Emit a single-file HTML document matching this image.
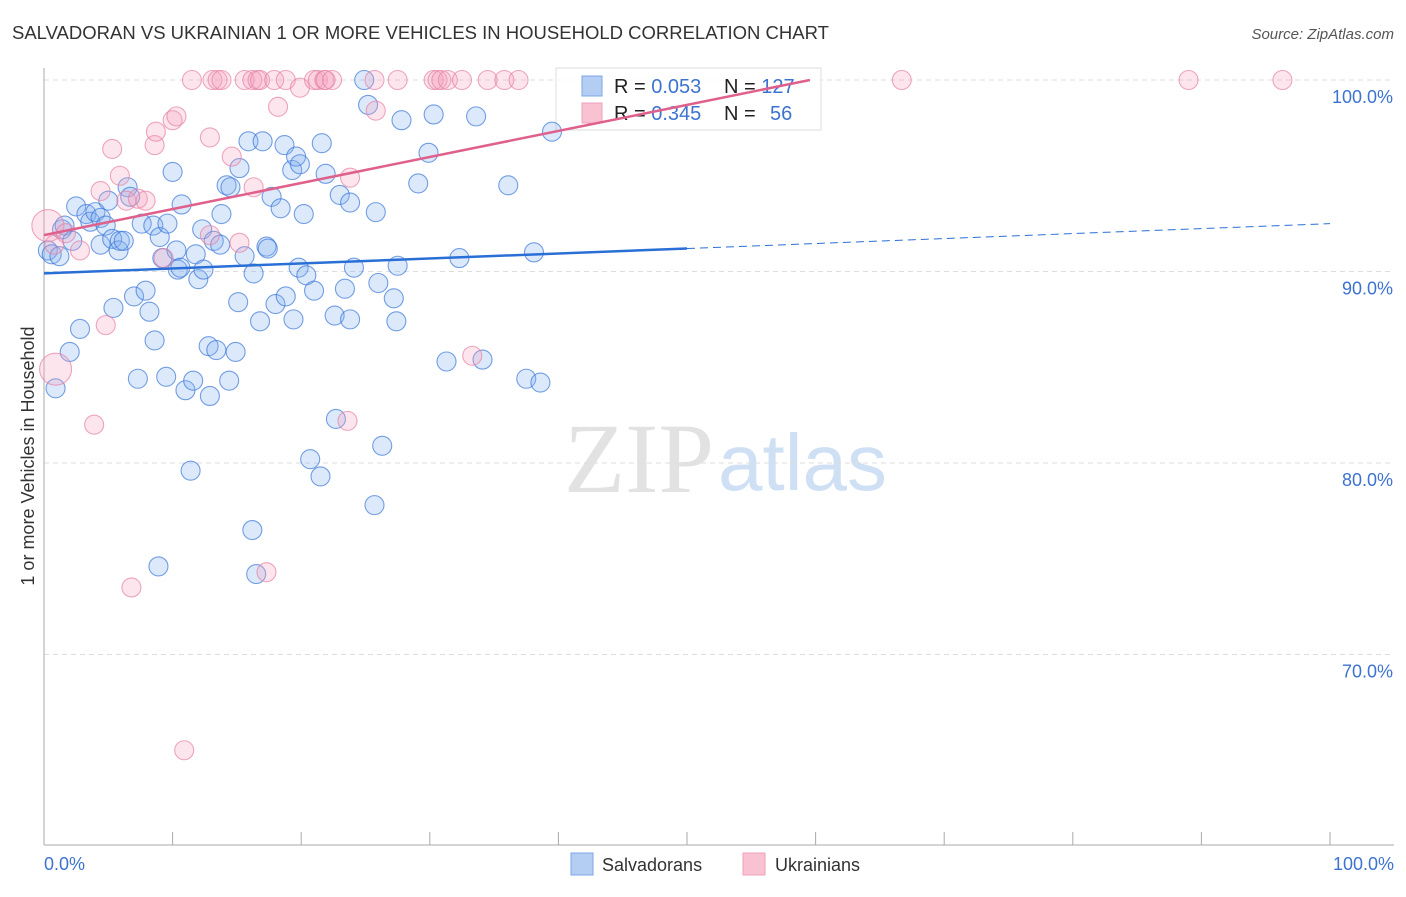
<!DOCTYPE html>
<html><head><meta charset="utf-8"><style>
body{margin:0;background:#fff;font-family:"Liberation Sans",sans-serif}
svg text{font-family:"Liberation Sans",sans-serif}
</style></head><body>
<svg id="chart" width="1406" height="892">
<text x="12" y="39" font-size="18.5" fill="#333">SALVADORAN VS UKRAINIAN 1 OR MORE VEHICLES IN HOUSEHOLD CORRELATION CHART</text>
<text x="1394" y="39" font-size="15" fill="#555" font-style="italic" text-anchor="end">Source: ZipAtlas.com</text>
<text x="714" y="492" font-size="100" fill="#e2e2e2" text-anchor="end" font-family="Liberation Serif" style="font-family:'Liberation Serif',serif">ZIP</text>
<text x="718" y="490" font-size="80" fill="#cfe0f5">atlas</text>
<g id="grid"></g>
<g id="axes"></g>
<g>
<rect x="556" y="68" width="265" height="62" fill="#fff" fill-opacity="0.85" stroke="#ddd"/>
<rect x="582" y="76" width="20" height="20" fill="#b3cdf3" stroke="#7ea6e6"/>
<rect x="582" y="103" width="20" height="20" fill="#f9c2d2" stroke="#eea0b8"/>
<text x="614" y="93" font-size="20" fill="#222">R = <tspan fill="#3d73d0">0.053</tspan><tspan x="724">N = </tspan><tspan fill="#3d73d0">127</tspan></text>
<text x="614" y="120" font-size="20" fill="#222">R = <tspan fill="#3d73d0">0.345</tspan><tspan x="724">N = </tspan><tspan x="770" fill="#3d73d0">56</tspan></text>
</g>
<g id="pts"></g>
<g id="trend"></g>
<text transform="translate(34,456) rotate(-90)" font-size="18" fill="#333" text-anchor="middle">1 or more Vehicles in Household</text>
<text x="44" y="870" font-size="18" fill="#3d73d0">0.0%</text>
<text x="1394" y="870" font-size="18" fill="#3d73d0" text-anchor="end">100.0%</text>
<g>
<rect x="571" y="853" width="22" height="22" fill="#b3cdf3" stroke="#7ea6e6"/>
<text x="602" y="871" font-size="18" fill="#333">Salvadorans</text>
<rect x="743" y="853" width="22" height="22" fill="#f9c2d2" stroke="#eea0b8"/>
<text x="775" y="871" font-size="18" fill="#333">Ukrainians</text>
</g>
</svg>
<script>
const yTicks=[100,90,80,70];
const yTickLabels=["100.0%","90.0%","80.0%","70.0%"];
const xTicks=[0,10,20,30,40,50,60,70,80,90,100];
const blueX=[0.3,0.6,0.9,1.2,1.4,1.6,2.0,2.2,2.5,2.8,3.3,3.6,4.0,4.4,4.4,4.8,5.0,5.3,5.4,5.8,5.9,6.2,6.5,6.7,7.0,7.3,7.6,7.9,8.2,8.5,8.6,8.9,9.0,9.2,9.5,9.6,10.0,10.3,10.4,10.6,10.7,11.0,11.4,11.6,11.8,12.0,12.3,12.4,12.8,12.9,13.2,13.4,13.7,13.8,14.2,14.4,14.5,14.9,15.1,15.2,15.6,15.9,16.2,16.3,16.5,16.8,17.0,17.3,17.4,17.7,18.0,18.4,18.7,18.8,19.3,19.4,19.6,19.8,19.9,20.2,20.4,20.7,21.0,21.5,21.6,21.9,22.6,22.7,23.0,23.4,23.8,23.8,24.1,24.9,25.2,25.7,25.8,26.0,26.3,27.2,27.4,27.5,27.8,29.1,29.9,30.3,31.3,32.3,33.6,34.1,36.1,37.5,38.1,38.6,39.5];
const blueY=[91.1,90.9,83.9,90.8,92.2,92.4,85.8,91.6,93.4,87.0,93.0,92.6,93.1,91.4,92.8,92.4,93.7,91.7,88.1,91.1,91.6,91.6,94.4,93.9,88.7,84.4,92.5,89.0,87.9,92.4,86.4,74.6,91.8,90.7,84.5,92.5,95.2,91.1,90.1,90.2,93.5,83.8,79.6,84.3,90.9,89.6,92.2,90.1,86.1,83.5,91.6,85.9,91.4,93.0,94.5,84.3,94.4,85.8,88.4,95.4,90.8,96.8,76.5,89.9,74.2,87.4,96.8,91.3,91.2,93.9,88.3,93.3,96.6,88.7,95.3,87.5,96.0,90.2,95.6,93.0,89.8,80.2,89.0,79.3,96.7,95.1,87.7,82.3,94.0,89.1,87.5,93.6,90.2,100,98.7,77.8,93.1,89.4,80.9,88.6,87.4,90.3,97.9,94.6,96.2,98.2,85.3,90.7,98.1,85.4,94.5,84.4,91.0,84.2,97.3];
const pinkX=[0.3,0.8,0.9,1.7,2.8,3.9,4.4,4.8,5.3,5.9,6.4,6.8,7.3,7.9,8.6,8.7,9.3,10.0,10.3,10.9,11.5,12.9,12.9,13.1,13.5,13.8,14.6,15.2,15.6,16.2,16.3,16.6,16.8,17.3,17.9,18.2,18.8,19.9,21.0,21.3,21.8,21.9,22.4,23.6,23.8,25.7,25.8,27.5,30.3,30.6,30.9,31.4,32.5,33.3,34.5,35.8,36.9,66.7,89.0,96.3];
const pinkY=[92.4,91.4,84.9,92.0,91.1,82.0,94.2,87.2,96.4,95.0,93.7,73.5,93.8,93.7,96.6,97.3,90.7,97.9,98.1,65.0,100,97.0,91.9,100,100,100,96.0,91.5,100,100,94.4,100,100,74.3,100,98.6,100,99.6,100,100,100,100,100,82.2,94.9,100,98.4,100,100,100,100,100,100,85.6,100,100,100,100,100,100];
const blueTrend=[89.9,92.5];
const pinkTrend=[91.9,105.5];
const NS="http://www.w3.org/2000/svg";
const X=v=>44+v*12.86;
const Y=v=>80+(100-v)*19.15;
function mk(tag,attrs,parent){const e=document.createElementNS(NS,tag);for(const k in attrs)e.setAttribute(k,attrs[k]);parent.appendChild(e);return e;}
const grid=document.getElementById('grid'),axes=document.getElementById('axes'),pts=document.getElementById('pts'),trend=document.getElementById('trend');
yTicks.forEach((t,i)=>{
 const l=mk('line',{x1:44,x2:1394,y1:Y(t),y2:Y(t),stroke:'#ddd','stroke-dasharray':'5,4'},grid);
 
 
 const tx=mk('text',{x:1393,y:Y(t)+23,'font-size':18,fill:'#3d73d0','text-anchor':'end'},grid);
 tx.textContent=yTickLabels[i];
 
 
});
const ax=mk('line',{x1:44,x2:44,y1:68,y2:845,stroke:'#aaa'},axes);


const bx=mk('line',{x1:44,x2:1394,y1:845,y2:845,stroke:'#aaa'},axes);


xTicks.forEach(t=>{
 const l=mk('line',{x1:X(t),x2:X(t),y1:832,y2:845,stroke:'#aaa'},axes);
 
 
});
blueX.forEach((x,i)=>{
 const c=mk('circle',{cx:X(x),cy:Y(blueY[i]),r:9.5,fill:'rgba(130,175,240,0.28)',stroke:'rgba(60,120,215,0.7)','stroke-width':1.1},pts);
 
 
});
pinkX.forEach((x,i)=>{
 const big=(i===0||i===2);
 const c=mk('circle',{cx:X(x),cy:Y(pinkY[i]),r:big?16:9.5,fill:'rgba(245,160,190,0.28)',stroke:'rgba(230,130,165,0.7)','stroke-width':1.1},pts);
 
 
});
const bt=(v)=>blueTrend[0]+(blueTrend[1]-blueTrend[0])*v/100;
const b1=mk('line',{x1:X(0),y1:Y(bt(0)),x2:X(50),y2:Y(bt(50)),stroke:'#2a6fd6','stroke-width':2.5},trend);


const b2=mk('line',{x1:X(50),y1:Y(bt(50)),x2:X(100),y2:Y(bt(100)),stroke:'#2a6fd6','stroke-width':1,'stroke-dasharray':'8,5'},trend);


const pt=(v)=>pinkTrend[0]+(pinkTrend[1]-pinkTrend[0])*v/100;
const xEnd=(100-pinkTrend[0])/(pinkTrend[1]-pinkTrend[0])*100;
const p1=mk('line',{x1:X(0),y1:Y(pt(0)),x2:X(xEnd),y2:Y(pt(xEnd)),stroke:'#e0608c','stroke-width':2.5},trend);


</script>
</body></html>
